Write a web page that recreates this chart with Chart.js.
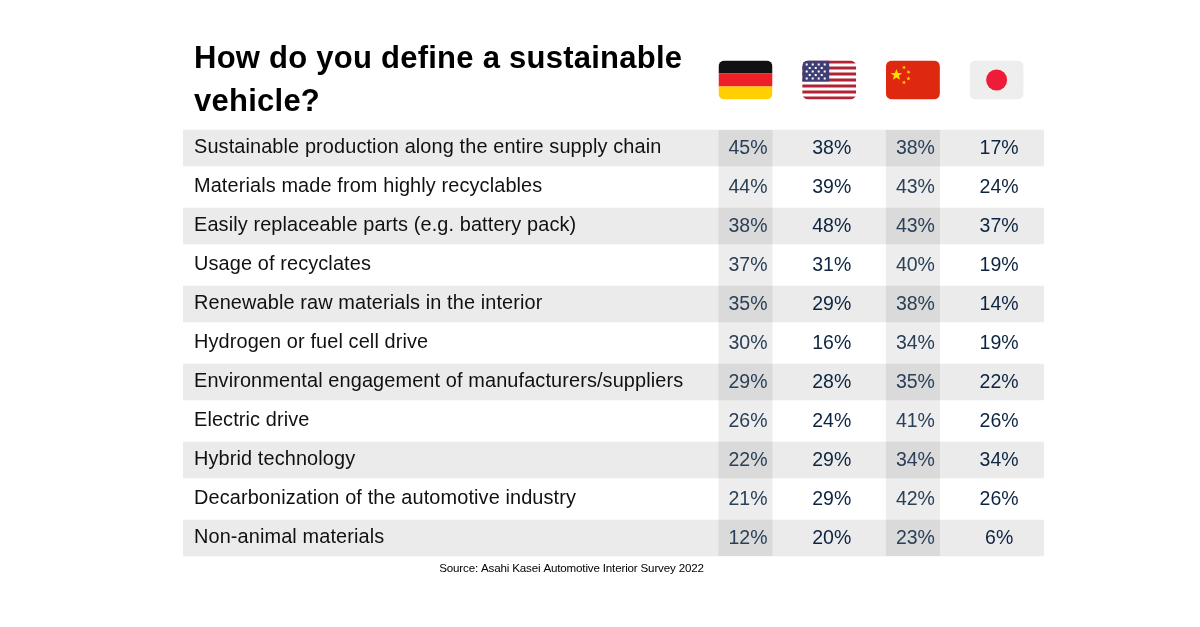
<!DOCTYPE html>
<html>
<head>
<meta charset="utf-8">
<title>How do you define a sustainable vehicle?</title>
<script src="https://cdn.jsdelivr.net/npm/chart.js@4"></script>
<style>
    html, body { margin: 0; padding: 0; background: #ffffff; }
    canvas { display: block; }
</style>
</head>
<body>
<canvas id="myChart" width="1200" height="627"></canvas>
<script>
const titleLines = ['How do you define a sustainable', 'vehicle?'];
const sourceText = 'Source: Asahi Kasei Automotive Interior Survey 2022';

const rows = [
    'Sustainable production along the entire supply chain',
    'Materials made from highly recyclables',
    'Easily replaceable parts (e.g. battery pack)',
    'Usage of recyclates',
    'Renewable raw materials in the interior',
    'Hydrogen or fuel cell drive',
    'Environmental engagement of manufacturers/suppliers',
    'Electric drive',
    'Hybrid technology',
    'Decarbonization of the automotive industry',
    'Non-animal materials'
];
const germany = [45, 44, 38, 37, 35, 30, 29, 26, 22, 21, 12];
const usa = [38, 39, 48, 31, 29, 16, 28, 24, 29, 29, 20];
const china = [38, 43, 43, 40, 38, 34, 35, 41, 34, 42, 23];
const japan = [17, 24, 37, 19, 14, 19, 22, 26, 34, 26, 6];

const countries = [germany, usa, china, japan];
const shadedColumns = [0, 2];

// x axis is in column units, column 0 = Germany, negative side is the label area
const xMin = -6.72;
const xMax = 3.566;

function roundedClip(ctx, x, y, w, h, r) {
    ctx.beginPath();
    ctx.roundRect(x, y, w, h, r);
    ctx.clip();
}

function star(ctx, cx, cy, r, rot) {
    ctx.beginPath();
    for (let i = 0; i < 10; i++) {
        const rad = i % 2 ? r * 0.42 : r;
        const a = rot + i * Math.PI / 5 - Math.PI / 2;
        ctx.lineTo(cx + rad * Math.cos(a), cy + rad * Math.sin(a));
    }
    ctx.closePath();
    ctx.fill();
}

function drawFlag(ctx, col, cx) {
    const w = 54, h = 39, x = cx - w / 2, y = 60.5;
    ctx.save();
    roundedClip(ctx, x, y, w, h, 6);
    if (col === 0) {
        ctx.fillStyle = '#111111';
        ctx.fillRect(x, y, w, 13);
        ctx.fillStyle = '#ef1f27';
        ctx.fillRect(x, y + 13, w, 13);
        ctx.fillStyle = '#ffcf00';
        ctx.fillRect(x, y + 26, w, 13);
    } else if (col === 1) {
        ctx.fillStyle = '#ffffff';
        ctx.fillRect(x, y, w, h);
        ctx.fillStyle = '#b22234';
        for (let i = 0; i < 13; i += 2) {
            ctx.fillRect(x, y + i * 3, w, 3);
        }
        ctx.fillStyle = '#3f3f75';
        ctx.fillRect(x, y, 27, 21);
        ctx.fillStyle = '#ffffff';
        for (let r = 0; r < 5; r++) {
            for (let c = 0; c < (r % 2 ? 3 : 4); c++) {
                ctx.fillRect(x + (r % 2 ? 6.5 : 3.5) + c * 6, y + 3 + r * 3.5, 2, 2);
            }
        }
    } else if (col === 2) {
        ctx.fillStyle = '#de2910';
        ctx.fillRect(x, y, w, h);
        ctx.fillStyle = '#ffde00';
        star(ctx, x + 10.5, y + 14.5, 6, 0);
        star(ctx, x + 18, y + 7, 2.1, 0.4);
        star(ctx, x + 22.5, y + 11.5, 2.1, 0.8);
        star(ctx, x + 22.5, y + 18, 2.1, 0);
        star(ctx, x + 18, y + 22, 2.1, 0.4);
    } else {
        ctx.fillStyle = '#eeeeee';
        ctx.fillRect(x, y, w, h);
        ctx.fillStyle = '#ee1c39';
        ctx.beginPath();
        ctx.arc(cx, y + 19.5, 10.5, 0, Math.PI * 2);
        ctx.fill();
    }
    ctx.restore();
}

const tablePlugin = {
    id: 'tablePlugin',
    beforeDraw(chart) {
        chart.ctx.letterSpacing = '0.12px';
    },
    afterDatasetsDraw(chart) {
        // darker strips behind the Germany and China columns
        const ctx = chart.ctx;
        const x = chart.scales.x;
        const y = chart.scales.y;
        const top = y.getPixelForValue(0) - 18;
        const bottom = y.getPixelForValue(rows.length - 1) + 18;
        ctx.save();
        ctx.fillStyle = 'rgba(60, 60, 60, 0.095)';
        shadedColumns.forEach(col => {
            ctx.fillRect(x.getPixelForValue(col) - 27, top, 54, bottom - top);
        });
        ctx.restore();
    },
    afterDraw(chart) {
        const ctx = chart.ctx;
        const x = chart.scales.x;
        const y = chart.scales.y;
        ctx.save();

        // title
        ctx.letterSpacing = '0.25px';
        ctx.fillStyle = '#000000';
        ctx.font = 'bold 31px "Liberation Sans"';
        ctx.textAlign = 'left';
        ctx.textBaseline = 'alphabetic';
        titleLines.forEach((line, i) => ctx.fillText(line, 194, 68 + i * 43));

        // source
        ctx.letterSpacing = '-0.17px';
        ctx.font = '11.6px "Liberation Sans"';
        ctx.textAlign = 'center';
        ctx.fillText(sourceText, 571.5, 572);

        // value cells, sit a bit right of the column centre in the original
        ctx.letterSpacing = '0px';
        ctx.font = '19.5px "Liberation Sans"';
        ctx.textBaseline = 'middle';
        countries.forEach((values, col) => {
            ctx.fillStyle = shadedColumns.includes(col) ? '#2b4058' : '#0d2440';
            values.forEach((v, row) => {
                ctx.fillText(v + '%', x.getPixelForValue(col) + 2.5, y.getPixelForValue(row) + 1);
            });
        });

        countries.forEach((values, col) => drawFlag(ctx, col, x.getPixelForValue(col)));
        ctx.restore();
    }
};

new Chart(document.getElementById('myChart').getContext('2d'), {
    type: 'bar',
    data: {
        labels: rows,
        datasets: [{
            data: rows.map((r, i) => (i % 2 === 0 ? [xMin, xMax] : null)),
            backgroundColor: '#ebebeb',
            borderWidth: 0,
            barThickness: 36
        }]
    },
    options: {
        indexAxis: 'y',
        responsive: false,
        animation: false,
        layout: {
            padding: { left: 161, right: 156, top: 128.5, bottom: 69.5 }
        },
        plugins: {
            legend: { display: false },
            tooltip: { enabled: false }
        },
        scales: {
            x: {
                type: 'linear',
                min: xMin,
                max: xMax,
                display: false
            },
            y: {
                grid: { display: false, drawTicks: false },
                border: { display: false },
                ticks: {
                    z: 1,
                    mirror: true,
                    padding: 11,
                    autoSkip: false,
                    color: '#111111',
                    font: { family: '"Liberation Sans"', size: 19.9 }
                }
            }
        }
    },
    plugins: [tablePlugin]
});
</script>
</body>
</html>
